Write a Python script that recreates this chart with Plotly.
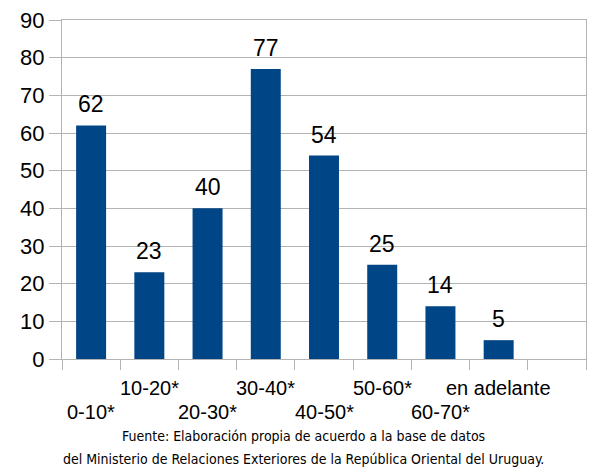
import plotly.graph_objects as go

# age groups and counts
categories = ["0-10*", "10-20*", "20-30*", "30-40*", "40-50*",
              "50-60*", "60-70*", "en adelante"]
counts = [62, 23, 40, 77, 54, 25, 14, 5]
n_slots = 9  # the chart keeps an empty slot at the right

source_lines = ["Fuente: Elaboración propia de acuerdo a la base de datos",
                "del Ministerio de Relaciones Exteriores de la República Oriental del Uruguay."]

grey = "#b3b3b3"
xpos = list(range(len(categories)))

fig = go.Figure()
fig.add_trace(go.Bar(
    x=xpos, y=counts, width=0.515,
    marker=dict(color="#004586", line=dict(width=0)),
))

# value labels above the bars
for i, v in enumerate(counts):
    fig.add_annotation(x=i, xref="x", y=v, yref="y", text=str(v), showarrow=False,
                       yanchor="bottom", yshift=6, font=dict(size=23, color="black"))

# staggered category labels, upper / lower rows
for i, lab in enumerate(categories):
    fig.add_annotation(x=i, xref="x", y=0, yref="y", text=lab, showarrow=False,
                       yshift=-29 if i % 2 else -53,
                       font=dict(size=20, color="black"))

for k, line in enumerate(source_lines):
    fig.add_annotation(x=0.461, xref="paper", y=0, yref="y", text=line,
                       showarrow=False, yshift=-77 - 23 * k,
                       font=dict(family="DejaVu Sans Condensed, Liberation Sans Narrow, sans-serif",
                                 size=14, color="black"))

fig.update_layout(
    width=590, height=470,
    margin=dict(l=62, r=4, t=20, b=111),
    plot_bgcolor="white", paper_bgcolor="white",
    font=dict(family="Liberation Sans, Arial, sans-serif", color="black"),
    showlegend=False,
)
fig.update_xaxes(
    range=[-0.5, n_slots - 0.5],
    tickvals=[i - 0.5 for i in range(n_slots + 1)],
    showticklabels=False, showgrid=False, zeroline=False,
    ticks="outside", ticklen=10, tickcolor=grey,
    showline=True, linecolor=grey, mirror=True,
)
fig.update_yaxes(
    range=[0, 90], dtick=10,
    tickfont=dict(size=22),
    gridcolor=grey, zeroline=False,
    ticks="outside", ticklen=12, tickcolor=grey,
    showline=True, linecolor=grey, mirror=True,
)

fig.write_html("out.html", config={"displayModeBar": False},
               post_script="document.body.style.margin='0';")
